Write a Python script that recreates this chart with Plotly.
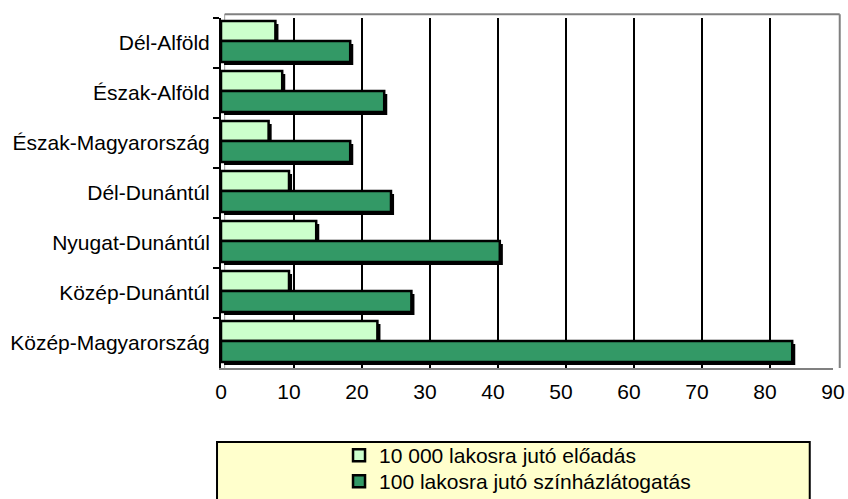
import plotly.graph_objects as go

regions = ["Dél-Alföld", "Észak-Alföld", "Észak-Magyarország", "Dél-Dunántúl",
           "Nyugat-Dunántúl", "Közép-Dunántúl", "Közép-Magyarország"]
eloadas = [8, 9, 7, 10, 14, 10, 23]          # 10 000 lakosra jutó előadás
latogatas = [19, 24, 19, 25, 41, 28, 84]     # 100 lakosra jutó színházlátogatás
names = ["10 000 lakosra jutó előadás", "100 lakosra jutó színházlátogatás"]
x_ticks = [0, 10, 20, 30, 40, 50, 60, 70, 80, 90]
grid_ticks = [10, 20, 30, 40, 50, 60, 70, 80]

LIGHT = "#CCFFCC"
DARK = "#339966"
FONT = "Liberation Sans, Arial, sans-serif"
FS = 21

fig = go.Figure()

# drop shadows (shifted right/down)
for vals, off, w in [(eloadas, -0.38, 0.40), (latogatas, 0.02, 0.42)]:
    fig.add_trace(go.Bar(
        y=regions, x=vals, base=0.45, orientation="h",
        offset=off, width=w,
        marker=dict(color="black", line=dict(width=0)),
        showlegend=False, hoverinfo="skip"))

for vals, name, color, off, w, leg in [(eloadas, names[0], LIGHT, -0.44, 0.40, "legend"),
                                        (latogatas, names[1], DARK, -0.04, 0.42, "legend2")]:
    fig.add_trace(go.Bar(
        y=regions, x=vals, orientation="h", name=name, legend=leg,
        offset=off, width=w,
        marker=dict(color=color, line=dict(color="black", width=2.5))))

# invisible trace on overlay axis so the back-wall grid is drawn (shifted like 3D wall)
fig.add_trace(go.Scatter(x=[None], y=[None], xaxis="x2", yaxis="y",
                         showlegend=False, hoverinfo="skip"))

leg_common = dict(xref="container", yref="container", x=0.3998,
                  xanchor="left", yanchor="top", bgcolor="rgba(0,0,0,0)",
                  font=dict(size=FS), itemwidth=30)

fig.update_layout(
    width=848, height=499,
    barmode="overlay",
    plot_bgcolor="white", paper_bgcolor="white",
    margin=dict(l=221, r=15, t=18, b=131, autoexpand=False),
    font=dict(family=FONT, size=FS, color="black"),
    xaxis=dict(range=[0, 90], tickvals=x_ticks, ticktext=[str(v) for v in x_ticks],
               showgrid=False,
               showline=True, linecolor="#808080", linewidth=2, mirror=False,
               ticks="", ticklabelstandoff=4, zeroline=False,
               tickfont=dict(size=FS)),
    xaxis2=dict(overlaying="x", range=[-0.7, 89.3], tickvals=grid_ticks,
                showticklabels=False, showgrid=True, gridcolor="black", gridwidth=2,
                zeroline=False, showline=False, ticks=""),
    yaxis=dict(categoryorder="array", categoryarray=regions, autorange="reversed",
               showline=True, linecolor="black", linewidth=2,
               ticks="outside", tickson="boundaries", ticklen=6, tickwidth=2,
               tickcolor="black", showgrid=False, ticklabelstandoff=5,
               tickfont=dict(size=FS)),
    legend=dict(y=0.1283, **leg_common),
    legend2=dict(y=0.0762, **leg_common),
    shapes=[
        dict(type="rect", xref="paper", yref="paper",
             x0=-0.0065, x1=0.962, y0=-0.40, y1=-0.2114,
             fillcolor="#FFFFCC", line=dict(color="black", width=2), layer="below"),
        # back wall edges (gray)
        dict(type="line", xref="paper", yref="paper",
             x0=0.006, x1=1.011, y0=1.011, y1=1.011, line=dict(color="#808080", width=2)),
        dict(type="line", xref="paper", yref="paper",
             x0=1.011, x1=1.011, y0=0.0, y1=1.011, line=dict(color="#808080", width=2)),
        dict(type="line", xref="paper", yref="paper",
             x0=0.006, x1=0.006, y0=0.0, y1=1.011, line=dict(color="#A0A0A0", width=1),
             layer="below"),
    ],
)

fig.write_html("out.html", config={"displayModeBar": False},
               post_script="document.body.style.margin='0';")
